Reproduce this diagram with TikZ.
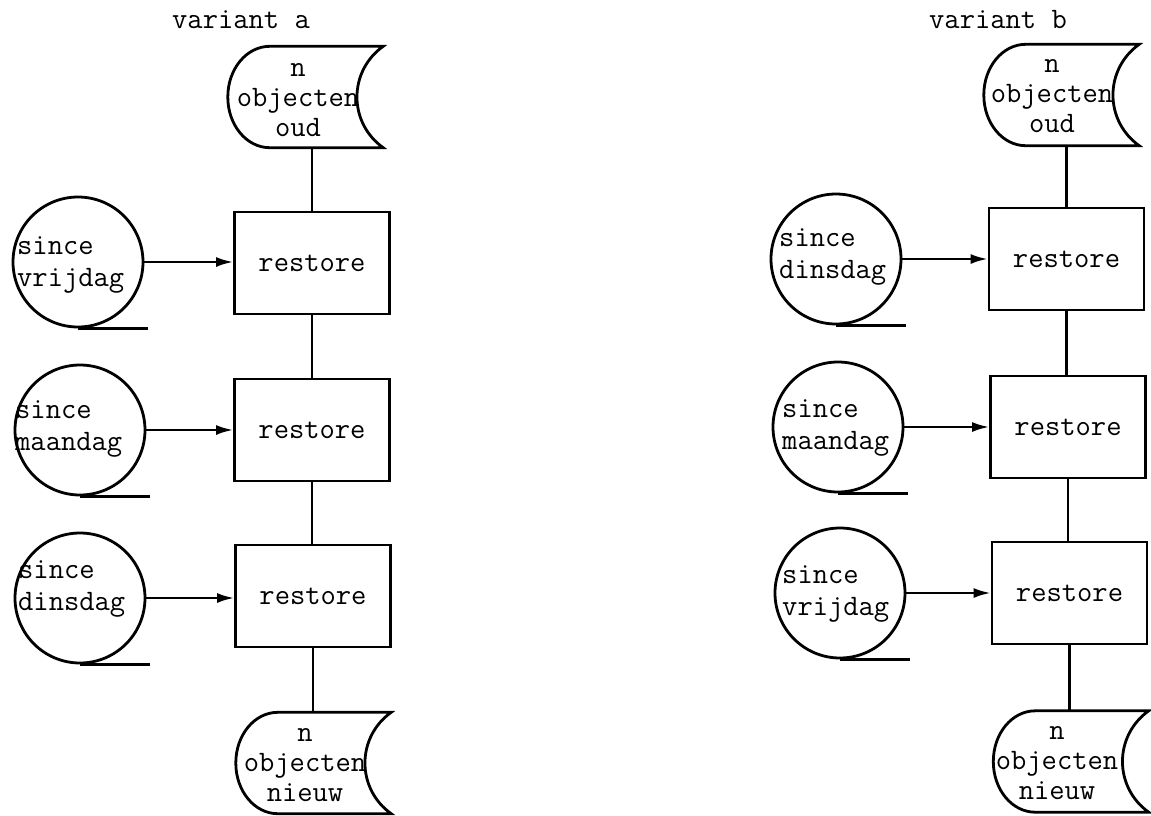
\documentclass[tikz,border=0pt]{standalone}
\usepackage{fontspec}
\usetikzlibrary{calc,arrows.meta}
\newcommand\tfont[1]{\ttfamily\fontsize{29.7}{#1}\selectfont\addfontfeature{FakeBold=0.7}}
\tikzset{
  every node/.style={font=\tfont{32}, inner sep=0pt},
  shapeline/.style={line width=2.8pt},
  conn/.style={line width=2.2pt},
  arrowconn/.style={line width=2.4pt, -{Latex[length=17pt,width=10pt]}},
  procbox/.style={draw, shapeline, rectangle, minimum width=155pt, minimum height=102pt},
  tape/.style={draw, shapeline, circle, minimum size=130pt},
  storebox/.style={rectangle, minimum width=155pt, minimum height=101pt},
  tapetext/.style={anchor=west, align=left},
  storetext/.style={align=center, font=\tfont{30}},
}
\newcommand\drawstore[1]{%
  \draw[shapeline] ($(#1.north west)+(42,0)$) -- (#1.north east)
    .. controls ($(#1.north east)+(-35,25)$) and ($(#1.south east)+(-35,-25)$) .. (#1.south east)
    -- ($(#1.south west)+(42,0)$)
    .. controls ($(#1.south west)+(18.8,0)$) and ($(#1.west)+(0,28.2)$) .. (#1.west)
    .. controls ($(#1.west)+(0,-28.2)$) and ($(#1.north west)+(18.8,0)$) .. ($(#1.north west)+(42,0)$)
    -- cycle;}
\newcommand\drawtail[1]{%
  \draw[shapeline] (#1.south) -- ($(#1.east |- #1.south)+(4,0)$);}
\begin{document}
\begin{tikzpicture}[x=1pt,y=-1pt]
\useasboundingbox (0,0) rectangle (1151,815);

% ---------- variant a ----------
\node (ta) at (241,20) {variant a};
\node[storebox] (sa1) at (305.5,97) {};
\node[storetext] (sa1t) at (298,100) {n\\objecten\\oud};
\node[procbox] (ba1) at (312,263) {restore};
\node[procbox] (ba2) at (312,430) {restore};
\node[procbox] (ba3) at (313,596) {restore};
\node[storebox] (sa2) at (313.5,763) {};
\node[storetext] (sa2t) at (305,765) {n\\objecten\\nieuw};

\node[tape] (ca1) at (78,262) {};
\node[tape] (ca2) at (80,430) {};
\node[tape] (ca3) at (80,598) {};
\node[tapetext] (ca1t) at (17,265) {since\\vrijdag};
\node[tapetext] (ca2t) at (15,429) {since\\maandag};
\node[tapetext] (ca3t) at (18,589) {since\\dinsdag};

\drawstore{sa1}
\drawstore{sa2}
\drawtail{ca1}
\drawtail{ca2}
\drawtail{ca3}

\draw[conn] (ba1.north) -- (ba1.north |- sa1.south);
\draw[conn] (ba1.south) -- (ba1.south |- ba2.north);
\draw[conn] (ba2.south) -- (ba2.south |- ba3.north);
\draw[conn] (ba3.south) -- (ba3.south |- sa2.north);
\draw[arrowconn] (ca1.east) -- (ca1.east -| ba1.west);
\draw[arrowconn] (ca2.east) -- (ca2.east -| ba2.west);
\draw[arrowconn] (ca3.east) -- (ca3.east -| ba3.west);

% ---------- variant b ----------
\node (tb) at (998,20) {variant b};
\node[storebox] (sb1) at (1061.5,95) {};
\node[storetext] (sb1t) at (1052,96) {n\\objecten\\oud};
\node[procbox] (bb1) at (1066.5,259) {restore};
\node[procbox] (bb2) at (1068,427) {restore};
\node[procbox] (bb3) at (1069.5,593) {restore};
\node[storebox] (sb2) at (1071,761.5) {};
\node[storetext] (sb2t) at (1057,763) {n\\objecten\\nieuw};

\node[tape] (cb1) at (836,259) {};
\node[tape] (cb2) at (838,427) {};
\node[tape] (cb3) at (840,593) {};
\node[tapetext] (cb1t) at (779,257) {since\\dinsdag};
\node[tapetext] (cb2t) at (782,428) {since\\maandag};
\node[tapetext] (cb3t) at (782,594) {since\\vrijdag};

\drawstore{sb1}
\drawstore{sb2}
\drawtail{cb1}
\drawtail{cb2}
\drawtail{cb3}

\draw[conn] (bb1.north) -- (bb1.north |- sb1.south);
\draw[conn] (bb1.south) -- (bb1.south |- bb2.north);
\draw[conn] (bb2.south) -- (bb2.south |- bb3.north);
\draw[conn] (bb3.south) -- (bb3.south |- sb2.north);
\draw[arrowconn] (cb1.east) -- (cb1.east -| bb1.west);
\draw[arrowconn] (cb2.east) -- (cb2.east -| bb2.west);
\draw[arrowconn] (cb3.east) -- (cb3.east -| bb3.west);
\end{tikzpicture}
\end{document}
